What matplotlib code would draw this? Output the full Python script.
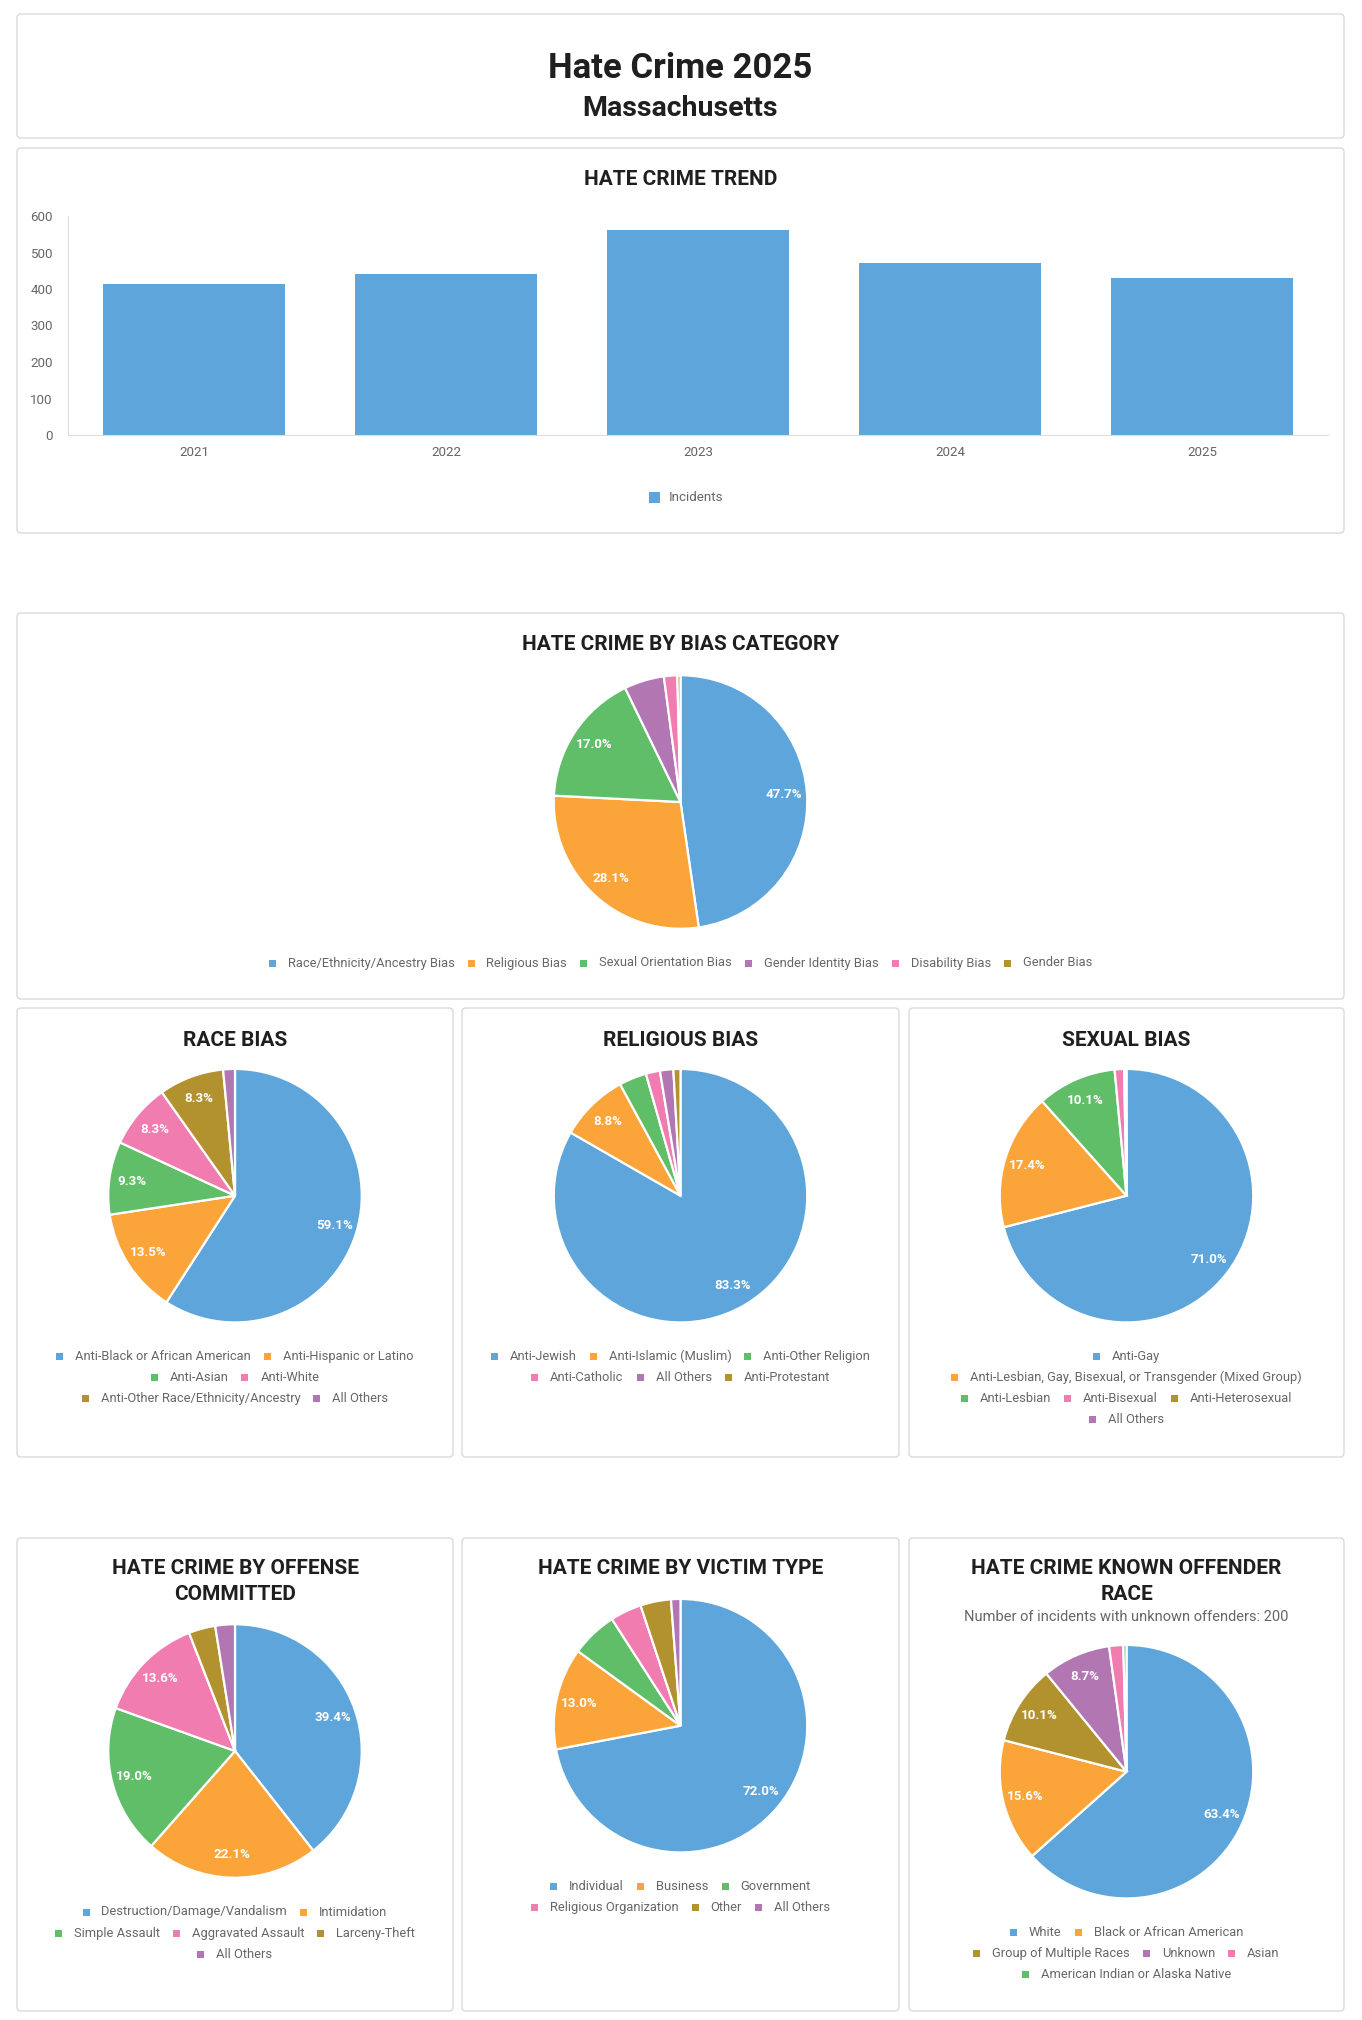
import matplotlib
matplotlib.use("Agg")
import matplotlib.pyplot as plt
from matplotlib.patches import FancyBboxPatch, Rectangle

plt.rcParams['font.family'] = ['Roboto', 'DejaVu Sans']

# ---- data ----
trend_years = ["2021", "2022", "2023", "2024", "2025"]
trend_incidents = [415, 442, 561, 472, 431]

bias_labels = ["Race/Ethnicity/Ancestry Bias", "Religious Bias", "Sexual Orientation Bias",
               "Gender Identity Bias", "Disability Bias", "Gender Bias"]
bias_values = [47.7, 28.1, 17.0, 5.1, 1.7, 0.4]

race_labels = ["Anti-Black or African American", "Anti-Hispanic or Latino", "Anti-Asian",
               "Anti-White", "Anti-Other Race/Ethnicity/Ancestry", "All Others"]
race_values = [59.1, 13.5, 9.3, 8.3, 8.3, 1.5]

religion_labels = ["Anti-Jewish", "Anti-Islamic (Muslim)", "Anti-Other Religion",
                   "Anti-Catholic", "All Others", "Anti-Protestant"]
religion_values = [83.3, 8.8, 3.5, 1.8, 1.7, 0.9]

sexual_labels = ["Anti-Gay", "Anti-Lesbian, Gay, Bisexual, or Transgender (Mixed Group)",
                 "Anti-Lesbian", "Anti-Bisexual", "Anti-Heterosexual", "All Others"]
sexual_values = [71.0, 17.4, 10.1, 1.2, 0.2, 0.1]

offense_labels = ["Destruction/Damage/Vandalism", "Intimidation", "Simple Assault",
                  "Aggravated Assault", "Larceny-Theft", "All Others"]
offense_values = [39.4, 22.1, 19.0, 13.6, 3.4, 2.5]

victim_labels = ["Individual", "Business", "Government", "Religious Organization",
                 "Other", "All Others"]
victim_values = [72.0, 13.0, 5.9, 4.0, 3.9, 1.2]

offender_labels = ["White", "Black or African American", "Group of Multiple Races",
                   "Unknown", "Asian", "American Indian or Alaska Native"]
offender_values = [63.4, 15.6, 10.1, 8.7, 1.8, 0.4]
unknown_offenders = 200

# ---- styles ----
PAL = {"blue": "#5DA5DA", "orange": "#FAA43A", "green": "#60BD68",
       "pink": "#F17CB0", "olive": "#B2912F", "purple": "#B276B2"}
STD = ["blue", "orange", "green", "pink", "olive", "purple"]
TITLE_C = "#1f1f1f"
GREY = "#666666"
TITLE_FS = 15
TITLE_W = 600

W, H = 1362, 2020
fig = plt.figure(figsize=(W / 100, H / 100), dpi=100)
fig.patch.set_facecolor("white")
bg = fig.add_axes([0, 0, 1, 1])
bg.set_xlim(0, W)
bg.set_ylim(H, 0)
bg.axis("off")
renderer = fig.canvas.get_renderer()


def panel(x0, y0, x1, y1):
    bg.add_patch(FancyBboxPatch((x0, y0), x1 - x0, y1 - y0,
                                boxstyle="round,pad=0,rounding_size=4",
                                facecolor="white", edgecolor="#dadada", linewidth=1.0))


def title(x, y, s, fs=TITLE_FS):
    bg.text(x, y, s, fontsize=fs, fontweight=TITLE_W, color=TITLE_C, ha="center", va="center")


def legend(labels, colors, cx, y, max_w=388, box=7, gap_in=12, gap_out=13, fs=9.3):
    widths = []
    for lab in labels:
        t = bg.text(0, 0, lab, fontsize=fs)
        widths.append(t.get_window_extent(renderer).width)
        t.remove()
    rows, cur, cur_w = [], [], 0
    for i, w in enumerate(widths):
        item_w = box + gap_in + w
        add = item_w if not cur else gap_out + item_w
        if cur and cur_w + add > max_w:
            rows.append((cur, cur_w))
            cur, cur_w = [i], item_w
        else:
            cur.append(i)
            cur_w += add
    rows.append((cur, cur_w))
    for r, (items, rw) in enumerate(rows):
        x = cx - rw / 2
        yy = y + r * 21
        for i in items:
            bg.add_patch(Rectangle((x, yy - box / 2), box, box, facecolor=colors[i], edgecolor="none"))
            bg.text(x + box + gap_in, yy, labels[i], fontsize=fs, color=GREY, va="center", ha="left")
            x += box + gap_in + widths[i] + gap_out


def pie(values, labels, color_keys, cx, cy, r=128, legend_w=388):
    colors = [PAL[k] for k in color_keys]
    ax = fig.add_axes([(cx - r) / W, 1 - (cy + r) / H, 2 * r / W, 2 * r / H])
    ax.pie(values, colors=colors, startangle=90, counterclock=False, radius=1,
           autopct=lambda p: f"{p:.1f}%" if p >= 7 else "", pctdistance=0.82,
           wedgeprops=dict(edgecolor="white", linewidth=1.6),
           textprops=dict(color="white", fontsize=9.6, fontweight="bold"))
    ax.set_xlim(-1.01, 1.01)
    ax.set_ylim(-1.01, 1.01)
    ax.set_aspect("auto")
    legend(labels, colors, cx, cy + 161, max_w=legend_w)


# ---- header ----
panel(17, 14, 1344, 138)
title(680.5, 68.5, "Hate Crime 2025", fs=25)
title(680.5, 108, "Massachusetts", fs=20.5)

# ---- trend bar chart ----
panel(17, 148, 1344, 533)
title(680.5, 179.5, "HATE CRIME TREND")
axb = fig.add_axes([68 / W, 1 - 435 / H, (1328 - 68) / W, (435 - 216) / H])
axb.bar(range(len(trend_years)), trend_incidents, width=0.72, color=PAL["blue"])
axb.set_xlim(-0.5, len(trend_years) - 0.5)
axb.set_ylim(0, 600)
axb.set_yticks(range(0, 601, 100))
axb.set_xticks(range(len(trend_years)))
axb.set_xticklabels(trend_years)
axb.tick_params(axis="both", length=0, labelsize=9.6, colors=GREY)
axb.tick_params(axis="x", pad=8)
axb.tick_params(axis="y", pad=11)
for s in ["top", "right"]:
    axb.spines[s].set_visible(False)
for s in ["left", "bottom"]:
    axb.spines[s].set_color("#dddddd")
bg.add_patch(Rectangle((649, 492), 10.5, 10.5, facecolor=PAL["blue"], edgecolor="none"))
bg.text(669, 497.5, "Incidents", fontsize=9.6, color=GREY, va="center", ha="left")

# ---- bias category ----
panel(17, 613, 1344, 999)
title(680.5, 645, "HATE CRIME BY BIAS CATEGORY")
pie(bias_values, bias_labels, ["blue", "orange", "green", "purple", "pink", "olive"],
    680.5, 802, legend_w=1200)

# ---- row 2 ----
cols = [(17, 453), (462, 899), (909, 1344)]
centers = [(a + b) / 2 for a, b in cols]
for a, b in cols:
    panel(a, 1008, b, 1457)
    panel(a, 1538, b, 2011)

for c, t in zip(centers, ["RACE BIAS", "RELIGIOUS BIAS", "SEXUAL BIAS"]):
    title(c, 1040, t)
pie(race_values, race_labels, STD, centers[0], 1195.7)
pie(religion_values, religion_labels, ["blue", "orange", "green", "pink", "purple", "olive"],
    centers[1], 1195.7)
pie(sexual_values, sexual_labels, STD, centers[2], 1195.7)

# ---- row 3 ----
title(centers[0], 1569, "HATE CRIME BY OFFENSE")
title(centers[0], 1594, "COMMITTED")
title(centers[1], 1569, "HATE CRIME BY VICTIM TYPE")
title(centers[2], 1569, "HATE CRIME KNOWN OFFENDER")
title(centers[2], 1594, "RACE")
bg.text(centers[2], 1617, f"Number of incidents with unknown offenders: {unknown_offenders}",
        fontsize=10.5, color=GREY, ha="center", va="center")

pie(offense_values, offense_labels, STD, centers[0], 1751)
pie(victim_values, victim_labels, STD, centers[1], 1725.7)
pie(offender_values, offender_labels, ["blue", "orange", "olive", "purple", "pink", "green"],
    centers[2], 1771.7)

fig.savefig("out.png", dpi=100, facecolor="white")
